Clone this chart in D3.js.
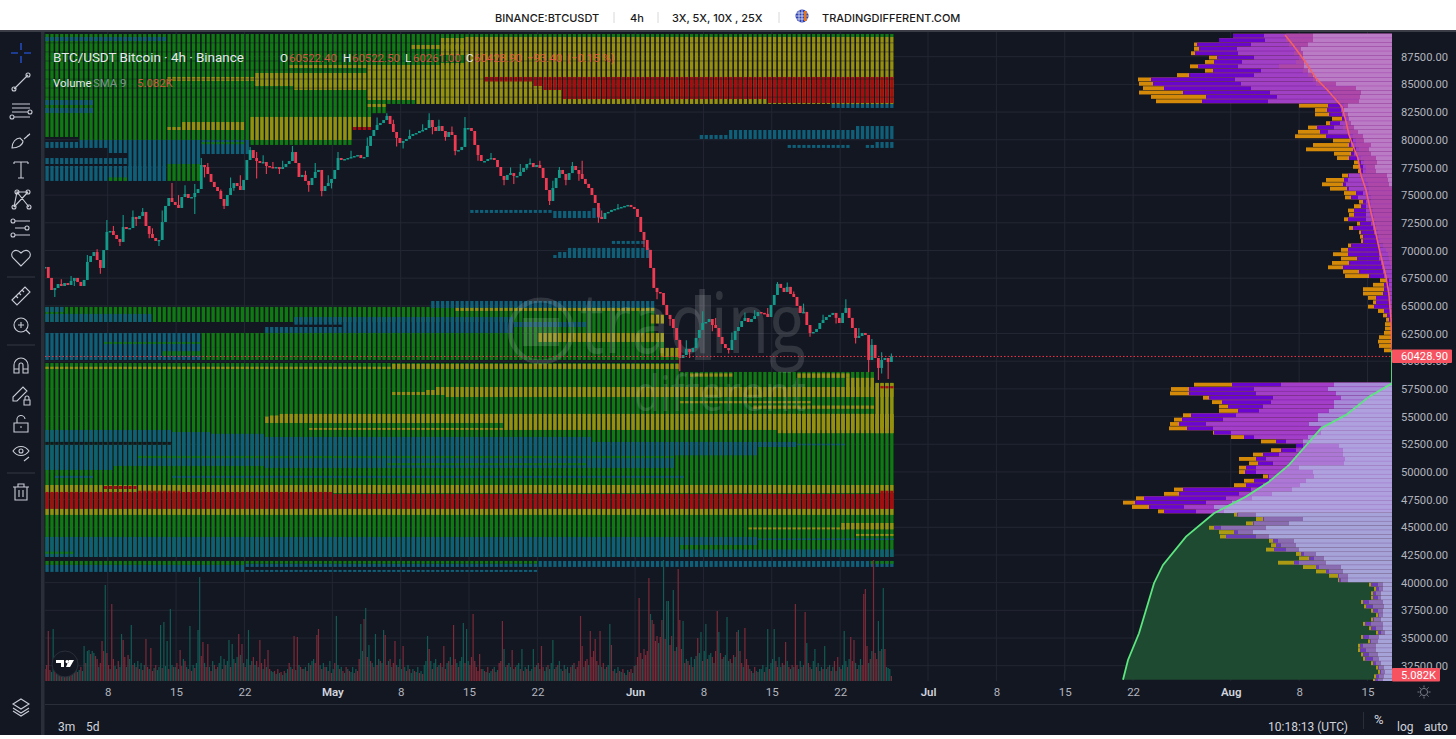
<!DOCTYPE html>
<html>
<head>
<meta charset="utf-8">
<script src="https://cdn.jsdelivr.net/npm/d3@7"></script>
<style>
html,body{margin:0;padding:0;background:#fff;overflow:hidden}
svg{display:block;font-family:Roboto,"Noto Sans",sans-serif}
</style>
</head>
<body>
<svg id="chart" width="1456" height="739"></svg>
<script>
// --- chart values (prices in thousands of USDT) ---
const priceTicks = [87500,85000,82500,80000,77500,75000,72500,70000,67500,65000,62500,60000,57500,55000,52500,50000,47500,45000,42500,40000,37500,35000,32500];
const dateTicks = ['2024-04-08','2024-04-15','2024-04-22','2024-05-01','2024-05-08','2024-05-15','2024-05-22','2024-06-01','2024-06-08','2024-06-15','2024-06-22','2024-07-01','2024-07-08','2024-07-15','2024-07-22','2024-08-01','2024-08-08','2024-08-15'];
const dateLabels = ['8','15','22','May','8','15','22','Jun','8','15','22','Jul','8','15','22','Aug','8','15'];
const lastPrice = 60428.9;
const lastVolume = 5.082;

// 8h closes
const closes = [68.51,67.52,66.43,66.61,66.97,66.79,67.06,66.88,67.25,67.52,67.16,66.79,67.34,68.96,69.5,69.86,69.14,68.42,70.04,71.67,
71.76,71.4,71.04,70.77,72.12,71.94,72.03,73.03,72.84,73.12,73.48,72.21,71.49,71.13,70.86,70.95,72.57,74.02,74.74,74.38,
74.11,73.84,74.83,75.1,74.74,74.83,75.19,75.55,77.72,77.54,76.91,76.19,75.73,75.37,74.65,74.02,75.01,75.64,76.09,75.82,
75.46,76.37,78.17,79.07,78.35,78.08,77.9,77.99,77.63,77.54,77.45,77.54,77.36,77.54,77.81,78.08,78.89,77.9,76.64,76.82,
76.28,75.91,76.55,77.09,77.27,75.37,75.82,76.09,76.46,77.27,78.35,78.17,78.26,78.35,78.44,78.53,78.62,78.35,78.44,79.44,
80.34,80.88,81.33,81.51,81.78,82.15,81.42,80.7,80.16,79.71,79.89,80.07,80.34,80.52,80.61,80.79,80.88,81.06,81.78,81.15,
80.79,81.24,80.79,80.25,80.7,80.43,78.98,79.07,79.35,81.06,81.06,80.79,79.53,78.62,78.08,78.08,78.26,78.35,78.17,77.54,
76.73,76.37,76.82,76.99,76.73,76.73,77.09,77.45,77.81,77.9,77.54,77.72,77.45,76.55,75.46,74.47,75.64,76.55,77.27,76.91,
76.37,76.99,77.63,77.27,76.91,76.46,76.01,75.64,75.01,74.29,73.03,72.84,73.39,73.48,73.66,73.75,73.84,73.93,74.02,74.11,
73.93,73.75,73.03,71.67,70.95,70.05,68.42,66.62,66.25,66.16,65.08,64.18,63.81,63.0,61.92,60.29,60.56,61.1,60.83,61.19,
62.1,62.82,63.45,63.54,63.81,63.27,63.0,62.19,61.55,61.19,61.01,61.92,62.73,63.09,63.63,63.9,63.54,63.81,64.08,64.44,
64.36,64.27,63.99,65.08,65.98,66.98,66.62,66.25,66.71,66.07,65.8,64.99,64.36,64.45,63.27,62.55,62.64,62.91,63.45,63.72,
63.99,64.18,64.36,63.91,63.45,64.36,64.81,63.91,63.0,62.1,62.28,62.55,62.37,60.11,61.47,60.29,59.39,60.11,60.29,59.93,60.43];
// [candle number, price] of the wicks that stick out
const wickHighs = [[5,67.4],[8,67.7],[13,69.6],[16,70.1],[19,72.75],[21,72.2],[24,73.2],[27,73.6],[30,73.84],[33,72.0],[36,73.6],[39,76.1],[41,75.0],[43,75.9],[46,76.0],[48,78.35],[50,77.9],[54,75.5],[57,76.6],[60,76.8],[63,79.35],[65,78.9],[67,78.6],[70,78.0],[73,78.1],[76,79.44],[80,77.2],[83,77.9],[87,76.8],[90,78.9],[94,79.0],[99,80.2],[102,82.0],[105,82.4],[107,81.8],[112,80.9],[116,81.4],[118,82.4],[121,81.8],[125,81.2],[129,82.05],[133,79.3],[137,78.8],[143,77.5],[146,77.8],[149,78.3],[152,78.1],[156,76.3],[158,77.54],[162,78.0],[165,78.1],[171,73.6],[176,74.2],[185,70.8],[190,66.0],[193,63.8],[197,61.9],[202,64.5],[206,63.9],[211,62.6],[215,64.4],[218,64.6],[222,64.8],[225,67.15],[228,67.1],[230,66.3],[233,65.2],[239,64.2],[246,65.6],[250,63.0],[254,62.0],[257,60.8],[260,60.7]];
const wickLows = [[3,65.8],[9,66.8],[17,67.9],[23,70.4],[28,72.2],[32,71.1],[35,70.4],[42,74.1],[46,73.3],[49,76.6],[55,73.75],[58,75.4],[65,76.5],[68,76.9],[72,76.9],[81,75.3],[85,74.9],[88,75.6],[108,79.4],[110,79.2],[119,80.5],[123,79.9],[126,78.6],[133,78.1],[141,75.9],[144,76.0],[148,77.3],[155,74.1],[160,75.9],[164,76.3],[170,72.5],[184,70.3],[188,65.6],[192,63.2],[195,59.1],[198,60.3],[205,62.7],[210,60.7],[214,63.2],[235,62.2],[243,63.4],[249,61.6],[253,59.0],[256,58.3],[257,58.9],[259,58.4]];

// 4h volume in thousands; positive = up bar, negative = down bar
const volume = [-12,-16,-50,-11,9,52,-14,8,-9,13,-7,15,-11,9,-12,7,-10,14,-8,12,
-9,11,-14,10,35,-18,30,31,-27,30,28,-25,-22,14,-18,-40,-30,96,-28,-16,
12,-77,-22,15,-12,-20,14,47,-41,-24,14,-26,22,56,-16,18,-14,20,-12,18,
-11,16,-42,-14,12,-33,-10,13,-16,11,14,56,-13,59,15,40,-12,72,16,-14,
14,-18,12,-31,-15,22,-20,14,-12,55,-10,16,-13,18,51,104,-25,-39,18,-14,
-37,14,-10,20,-16,12,-14,18,25,-12,22,-16,20,41,-14,37,22,-18,24,-47,
26,-37,18,-14,22,51,-16,20,-24,16,-20,14,-41,-18,12,-22,14,-31,-12,10,
9,-10,7,-12,8,-9,6,-10,8,12,-18,14,-12,-45,11,-44,16,-14,12,-12,
14,-10,18,-16,20,22,-18,-46,-52,16,-12,18,-14,14,-10,20,-8,12,-18,65,
16,-12,14,-10,8,-14,12,-10,9,14,-8,12,-10,-22,57,30,-62,73,-24,36,
-20,18,-14,47,-16,22,-20,18,51,-46,-16,20,-22,14,-18,-40,16,-14,22,12,
-35,14,-10,16,-12,8,12,-10,9,14,-8,10,-7,16,20,45,-32,20,-12,18,
22,-14,16,-18,14,-35,-12,18,-20,24,-16,-56,-22,18,-14,20,24,58,-18,52,
20,-16,-24,-67,-20,-14,-10,-27,-12,12,-10,9,-14,8,10,-12,14,-9,11,-18,
-20,-60,32,14,-16,18,14,-31,12,-14,16,18,-12,32,-10,14,-12,16,-10,12,
32,-14,16,-18,12,-35,-14,10,14,-16,12,18,41,-12,14,-16,20,12,-10,16,
-12,14,8,-14,16,-18,12,-14,-20,-65,-35,14,-20,-22,16,-50,-24,-30,-42,-20,
16,-50,14,-18,12,-14,16,57,-36,-10,12,-8,14,-10,9,-12,8,-6,11,-9,
-12,8,-15,16,-24,-83,-28,22,-32,-26,-30,-103,67,-61,-57,-40,-45,38,-44,-61,
121,-42,80,80,-36,-45,91,-30,34,-112,-61,-32,60,-18,22,-20,-16,24,-14,22,
25,-43,28,49,-20,30,57,-22,26,28,-24,18,-30,-70,49,-28,22,-24,26,64,
20,-22,18,-26,24,-49,51,-30,-18,14,-53,-22,-16,12,-10,8,-14,10,-9,12,
12,16,-9,14,52,-12,18,22,52,-20,-14,24,14,-18,16,-39,20,-14,12,-16,
14,-77,-16,12,20,-14,16,-69,38,-18,14,-12,20,32,-14,18,-10,14,-12,35,
12,-14,16,-10,14,-20,10,-24,14,-12,16,50,20,-14,22,-44,-20,-41,18,-12,
16,22,-16,-87,-92,-35,18,-22,30,-121,-28,-22,60,-30,32,93,-32,14,13,12,-5];

// liquidation heatmap blocks: [first column, last column, top price, bottom price, level]
// level: g low, b lower, y high, r highest, x empty
const heatBands = [
[0,69,89.55,82.96,'g'],[70,85,89.55,83.23,'g'],[86,173,89.55,89.28,'g'],[86,173,89.28,83.23,'y'],
[0,6,82.96,80.25,'g'],[7,41,82.96,79.98,'g'],[42,62,82.96,79.53,'g'],[63,66,82.96,81.15,'g'],[67,69,82.96,82.4,'g'],
[0,24,89.28,88.92,'b'],[0,9,83.59,83.14,'b'],[0,9,82.87,82.42,'b'],
[0,6,79.8,79.26,'b'],[7,12,79.98,79.26,'b'],[13,16,79.98,78.8,'b'],[17,31,79.98,77.81,'b'],[32,41,79.98,78.71,'b'],[32,40,79.8,79.6,'g'],
[0,16,78.35,77.81,'b'],[0,24,77.63,76.28,'b'],[17,24,77.81,76.28,'b'],[25,31,77.81,76.28,'g'],[13,16,76.6,76.28,'g'],
[25,27,81.15,80.88,'y'],[28,40,81.6,80.88,'y'],[42,62,82.06,79.98,'y'],[63,66,82.06,81.15,'y'],[63,66,81.15,80.88,'r'],[66,69,83.23,82.96,'y'],
[25,43,85.67,85.31,'y'],[43,50,86.03,84.85,'y'],[51,65,86.03,84.49,'y'],[50,65,86.75,86.48,'y'],
[66,75,86.75,83.59,'y'],[76,85,86.75,83.23,'y'],[75,85,88.56,88.2,'y'],[81,85,89.19,87.65,'y'],[81,85,86.93,83.23,'y'],
[90,99,85.67,85.26,'r'],[100,105,85.67,84.49,'r'],[100,101,84.85,84.49,'y'],[106,147,85.67,83.68,'r'],[148,173,85.67,83.32,'r'],[161,173,83.23,82.87,'b'],
[134,139,80.43,80.07,'b'],[140,165,80.88,80.07,'b'],[166,173,81.24,80.07,'b'],[152,164,79.53,79.26,'b'],[168,169,79.53,79.26,'b'],[170,173,79.8,79.26,'b'],
[87,103,73.66,73.39,'b'],[104,111,73.57,72.93,'b'],[112,113,73.84,72.93,'b'],
[116,122,70.86,70.59,'b'],[107,123,70.23,69.32,'b'],[105,106,69.86,69.32,'b'],[104,104,69.59,69.32,'b'],
[0,124,64.9,63.54,'g'],[0,21,64.27,63.54,'b'],[0,3,64.9,64.45,'b'],[51,60,63.99,63.3,'b'],[45,60,63.09,62.55,'b'],[61,95,63.99,62.55,'b'],
[96,124,63.54,62.55,'g'],[96,110,63.54,63.09,'b'],[79,124,65.44,64.81,'b'],[84,124,64.81,64.54,'y'],[124,126,64.2,63.4,'y'],
[0,31,62.55,60.11,'b'],[12,31,61.74,61.56,'g'],[24,31,60.9,60.5,'g'],[32,126,62.55,61.2,'g'],[32,129,61.2,60.11,'g'],[101,126,62.55,61.74,'y'],[126,129,61.2,60.38,'y'],
[0,129,59.84,42.32,'g'],[130,169,59.03,42.32,'g'],[170,173,58.04,42.32,'g'],
[0,70,59.5,59.3,'y'],[71,129,59.75,59.3,'y'],[170,173,58.04,53.5,'y'],
[71,77,57.22,56.95,'y'],[78,79,57.4,56.95,'y'],[80,81,57.67,56.95,'y'],[82,173,57.67,56.77,'y'],
[132,140,58.9,58.6,'y'],[154,164,58.9,58.5,'y'],[164,169,58.5,56.77,'y'],[130,156,56.4,56.2,'y'],[145,169,56.0,55.7,'y'],
[170,173,58.0,57.7,'y'],[171,173,57.75,57.55,'r'],[171,173,54.0,53.75,'r'],
[45,45,55.0,54.42,'y'],[46,47,55.1,54.42,'y'],[48,93,55.24,54.42,'y'],[94,173,55.24,53.79,'y'],[150,173,55.24,53.5,'y'],[54,93,53.97,53.8,'y'],
[0,25,53.79,52.71,'b'],[0,25,52.71,52.44,'x'],[0,13,52.44,50.18,'b'],[14,25,52.44,50.54,'b'],
[26,33,53.6,50.54,'b'],[34,44,53.44,50.54,'b'],[45,111,53.16,50.36,'b'],[112,128,52.71,50.36,'b'],[129,145,52.71,51.5,'b'],[146,153,52.71,52.25,'b'],[154,163,52.55,52.4,'b'],
[19,128,51.45,51.25,'g'],[70,110,50.8,50.6,'g'],[2,9,49.65,49.45,'b'],[26,130,49.65,49.45,'b'],
[0,173,48.82,48.1,'y'],[12,18,48.73,48.46,'r'],[19,27,48.3,48.2,'r'],[0,58,48.19,46.66,'r'],[59,173,48.01,46.66,'r'],[171,173,48.3,46.66,'r'],[0,173,46.66,46.12,'y'],
[0,129,44.13,42.32,'b'],[130,145,44.13,43.4,'b'],[130,173,43.0,42.32,'b'],[146,173,44.0,43.85,'b'],[0,5,42.8,42.6,'g'],
[144,163,44.99,44.81,'y'],[163,173,45.39,44.81,'y'],[166,173,44.4,44.22,'y'],
[0,40,41.96,41.6,'g'],[0,40,41.6,40.97,'b'],[41,100,41.96,41.7,'g'],[41,100,41.7,41.42,'b'],[41,100,41.15,40.97,'b'],[101,173,41.96,41.42,'b'],[169,173,41.96,41.7,'g']
];

// volume profile, top half: depth of each layer per price row
const upOrange = [159,173,198,198,201,183,187,202,187,215,254,253,249,253,241,236,93,77,77,60,66,84,94,97,59,79,86,58,55,38,39,34,50,66,70,62,48,47,33,38,44,43,48,35,43,33,32,31,44,51,59,51,60,64,49,47,12,19,29,29,24,19,24,14,9,6,7,7,8,13,14,13,8];
const upPurple = [159,173,195,193,197,175,178,194,179,203,241,239,228,209,186,190,64,65,63,50,62,75,72,66,42,43,39,41,43,33,32,31,44,48,49,45,36,41,29,31,38,38,44,32,39,31,29,29,41,44,44,35,43,49,33,23,5,8,8,9,16,16,18,8,5,3,1,1,1,1,1,1,1];
const upMauve = [128,127,141,155,154,138,150,154,131,138,157,151,141,122,115,124,52,51,50,47,52,58,64,43,39,41,36,38,35,31,29,29,43,44,46,43,29,34,26,26,26,26,26,21,19,18,16,14,14,13,13,13,11,10,9,8,3,3,4,4,3,3,3,2,1,1,0,0,0,0,0,0,0];
const upPink = [106,106,103,96,98,93,96,113,89,84,79,76,66,59,58,54,48,49,48,44,46,49,44,39,36,36,33,36,31,28,26,26,29,26,24,23,23,21,21,21,19,18,18,16,16,14,13,12,9,6,4,3,2,1,0,0,0,0,0,0,0,0,0,0,0,0,0,0,0,0,0,0,0];
const upPale = [79,79,84,91,89,89,88,88,84,79,76,56,36,31,32,33,44,48,44,43,41,38,34,29,28,21,23,21,16,15,17,16,5,4,3,0,0,0,0,0,0,0,0,0,0,0,0,0,0,0,0,0,0,0,0,0,0,0,0,0,0,0,0,0,0,0,0,0,0,0,0,0,0];
const upFirstPrice = 89.37;
// middle rows
const midOrange = [198,221,222,189,180,173,173,209,218,222,223,179,161,131,96,121,139,153,143,153,153,129,148,158,218,228,256,269,260,234];
const midPurple = [160,203,203,183,170,164,154,201,210,213,205,178,148,116,96,111,129,136,134,146,147,124,138,146,209,213,248,257,243,228];
const midMauve = [111,138,136,119,121,129,133,156,169,186,179,161,138,106,89,96,113,126,119,136,136,123,123,129,141,153,166,186,208,196];
const midLilac = [58,64,56,51,58,58,63,74,74,83,71,71,84,89,53,49,49,47,48,93,79,78,86,92,100,120,140,160,178,168];
const midFirstPrice = 57.86;
// bottom rows
const lowGold = [158,136,146,183,173,172,123,121,126,96,93,114,89,76,63,54,23,18,21,21,31,28,21,16,21,29,23,16,31,24,34,34,31,29,21,16,14,18,19];
const lowPurple = [155,129,139,178,158,166,119,116,118,91,83,98,76,66,54,53,21,16,19,19,29,26,19,14,19,27,21,14,29,22,32,32,29,27,19,14,12,16,17];
const lowDim = [154,128,138,171,154,136,114,111,106,88,78,93,73,63,53,51,14,13,16,14,23,19,14,13,18,21,16,11,23,21,29,26,23,19,16,13,11,13,14];
const lowPale = [136,89,103,126,139,123,98,96,93,76,68,66,51,49,44,44,9,9,11,11,9,8,9,9,11,9,9,7,13,14,16,16,14,13,11,8,7,8,9];
const lowFirstPrice = 46.12;
const profileBin = 0.3946;

// the two cumulative curves of the profile
const redCurvePrice = [89.46,88.56,87.2,85.55,84.34,82.98,81.63,80.43,79.23,78.32,76.82,75.46,73.81,72.3,70.2,67.63,65.98,63.72,61.0];
const redCurveDepth = [107,99,88,76,63,50,46,43,38,34,31,26,22,18,13,6,3,1,0];
const greenCurvePrice = [61.0,58.0,56.8,55.15,53.94,52.59,50.63,49.12,47.77,46.27,44.16,41.6,39.95,37.53,35.43,33.02,31.23];
const greenCurveDepth = [0,0,23,46,71,84,103,123,146,178,206,229,238,246,253,264,269];

// --- layout ---
const pane = {left:45,right:1392,top:32,bottom:681};
const colors = {bg:'#131722',grid:'#232733',text:'#b2b5be',g:'#0f7a12',b:'#0f5f78',y:'#97900f',r:'#a80c10',x:'#131722',
  up:'#129a8b',down:'#f03a52',volUp:'#125a53',volDown:'#7c2a38'};
const H = 3600e3;
const candleStart = Date.UTC(2024,3,1,14);

const svg = d3.select('#chart');
const x = d3.scaleUtc().domain([Date.UTC(2024,3,8),Date.UTC(2024,7,15)]).range([107.7,1367.5]);
const y = d3.scaleLinear().domain([87500,32500]).range([56.7,665.7]);
const py = k => y(k*1000);
const vol = d3.scaleLinear().domain([0,121]).range([pane.bottom,560]);
const depth = d3.scaleLinear().domain([0,300]).range([pane.right,pane.right-300]);

svg.append('rect').attr('width',1456).attr('height',739).attr('fill','#fff');
svg.append('rect').attr('y',31).attr('width',1456).attr('height',704).attr('fill',colors.bg);
svg.append('rect').attr('y',30).attr('width',1456).attr('height',2).attr('fill','#3a3d46');

svg.append('defs').append('clipPath').attr('id','paneClip').append('rect')
  .attr('x',pane.left).attr('y',pane.top+1).attr('width',pane.right-pane.left).attr('height',pane.bottom-pane.top-1);

// --- grid ---
const parsedTicks = dateTicks.map(d=>new Date(d+'T00:00:00Z'));
const grid = svg.append('g');
grid.selectAll('line.v').data(parsedTicks).join('line').attr('class','v')
  .attr('x1',d=>x(d)).attr('x2',d=>x(d)).attr('y1',pane.top).attr('y2',pane.bottom).attr('stroke',colors.grid);
grid.selectAll('line.h').data(priceTicks).join('line').attr('class','h')
  .attr('x1',pane.left).attr('x2',pane.right).attr('y1',d=>y(d)).attr('y2',d=>y(d)).attr('stroke',colors.grid);

const plot = svg.append('g').attr('clip-path','url(#paneClip)');

// --- heatmap ---
const cells = [];
heatBands.forEach(b=>{
  d3.range(b[0],b[1]+1).forEach(c=>cells.push({c:c,top:b[2],bottom:b[3],level:b[4]}));
});
const colX = c => x(new Date(candleStart+c*12*H));
plot.append('g').selectAll('rect').data(cells).join('rect')
  .attr('x',d=>colX(d.c)+0.4).attr('width',3.3)
  .attr('y',d=>py(d.top)).attr('height',d=>py(d.bottom)-py(d.top))
  .attr('fill',d=>colors[d.level]);
// faint row lines in the top block
plot.append('g').selectAll('line').data(d3.range(88.75,83.2,-0.817)).join('line')
  .attr('x1',pane.left).attr('x2',x(new Date(candleStart+174*12*H)))
  .attr('y1',d=>py(d)).attr('y2',d=>py(d)).attr('stroke',colors.bg).attr('stroke-opacity',0.4);

// --- watermark ---
const mark = plot.append('g').attr('fill','#fff').attr('fill-opacity',0.13);
mark.append('circle').attr('cx',541).attr('cy',331).attr('r',31).attr('fill','none').attr('stroke','#fff').attr('stroke-opacity',0.13).attr('stroke-width',5);
mark.append('rect').attr('x',523).attr('y',318).attr('width',36).attr('height',28);
mark.append('rect').attr('x',695).attr('y',295).attr('width',16).attr('height',65);
mark.append('text').attr('x',580).attr('y',353).attr('font-size',84).attr('font-weight',500).attr('font-family','Open Sans')
  .attr('textLength',226).attr('lengthAdjust','spacingAndGlyphs').text('trading');
mark.append('text').attr('x',634).attr('y',411).attr('font-size',50).attr('font-weight',500).attr('font-family','Open Sans')
  .attr('textLength',172).attr('lengthAdjust','spacingAndGlyphs').text('different');

// --- volume pane ---
plot.append('g').selectAll('rect').data(volume).join('rect')
  .attr('x',(d,i)=>x(new Date(candleStart+i*4*H))-0.6).attr('width',1.2)
  .attr('y',d=>vol(Math.abs(d))).attr('height',d=>pane.bottom-vol(Math.abs(d)))
  .attr('fill',d=>d>0?colors.volUp:colors.volDown);

// --- candles ---
const highOf = new Map(wickHighs), lowOf = new Map(wickLows);
const candles = closes.map((c,i)=>{
  const open = i?closes[i-1]:c;
  return {date:new Date(candleStart+i*8*H),open:open,close:c,
    high:Math.max(highOf.get(i)||0,open,c),low:Math.min(lowOf.get(i)||999,open,c)};
});
const candle = plot.append('g').selectAll('g').data(candles).join('g');
candle.append('line').attr('x1',d=>x(d.date)).attr('x2',d=>x(d.date))
  .attr('y1',d=>py(d.high)).attr('y2',d=>py(d.low)).attr('stroke',d=>d.close>=d.open?colors.up:colors.down).attr('stroke-width',1.1);
candle.append('rect').attr('x',d=>x(d.date)-1.4).attr('width',2.8)
  .attr('y',d=>py(Math.max(d.open,d.close))).attr('height',d=>Math.max(1.5,Math.abs(py(d.open)-py(d.close))))
  .attr('fill',d=>d.close>=d.open?colors.up:colors.down);

// --- volume profile ---
function profileRows(first,layers,fills){
  const rowGroup = plot.append('g');
  layers.forEach((values,k)=>{
    rowGroup.append('g').attr('fill',fills[k]).selectAll('rect').data(values).join('rect')
      .attr('x',d=>depth(d)).attr('width',d=>depth(0)-depth(d))
      .attr('y',(d,i)=>py(first-i*profileBin+profileBin/2))
      .attr('height',py(0)-py(profileBin)-0.5);
  });
}
profileRows(upFirstPrice,[upOrange,upPurple,upMauve,upPink,upPale],['#d48a08','#6a06cc','#a040c4','#ad48a8','#bb7cc6']);
profileRows(midFirstPrice,[midOrange,midPurple,midMauve,midLilac],['#d48a08','#6a06d0','#a23ec8','#a68ad8']);

// translucent side of the lower curve, above the green fill
const curveRows = greenCurvePrice.map((p,i)=>({p:p,d:greenCurveDepth[i]}));
plot.append('path').datum(curveRows.filter(d=>d.p>46))
  .attr('fill','#b8bce4').attr('fill-opacity',0.45)
  .attr('d',d3.area().y(d=>py(d.p)).x0(d=>depth(d.d)).x1(depth(0)));
plot.append('path').datum(curveRows.filter(d=>d.p<47))
  .attr('fill','#1f4a32')
  .attr('d',d3.area().y(d=>py(d.p)).x0(d=>depth(d.d)).x1(depth(0)));
profileRows(lowFirstPrice,[lowGold,lowPurple,lowDim,lowPale],['#ad9a14','#6a3cb8','#8a6cb0','#a6a3d8']);

const curve = d3.line().x(d=>depth(d.d)).y(d=>py(d.p));
plot.append('path').datum(redCurvePrice.map((p,i)=>({p:p,d:redCurveDepth[i]})))
  .attr('fill','none').attr('stroke','#f4605f').attr('stroke-width',1.5).attr('d',curve);
plot.append('path').datum(curveRows)
  .attr('fill','none').attr('stroke','#5ce67f').attr('stroke-width',1.8).attr('d',curve);

// --- last price line ---
svg.append('line').attr('x1',pane.left).attr('x2',pane.right).attr('y1',y(lastPrice)).attr('y2',y(lastPrice))
  .attr('stroke','#f23645').attr('stroke-dasharray','1.5 2');

// --- axes ---
const yAxis = svg.append('g').attr('transform',`translate(${pane.right},0)`)
  .call(d3.axisRight(y).tickValues(priceTicks).tickFormat(d3.format('.2f')).tickSize(0).tickPadding(9));
yAxis.select('.domain').remove();
yAxis.selectAll('text').attr('font-family','Roboto').attr('font-size',11.2).attr('fill',colors.text);

const xAxis = svg.append('g').attr('transform',`translate(0,${pane.bottom})`)
  .call(d3.axisBottom(x).tickValues(parsedTicks).tickFormat((d,i)=>dateLabels[i]).tickSize(0).tickPadding(7));
xAxis.select('.domain').remove();
xAxis.selectAll('text').attr('font-family','Roboto').attr('font-size',11.5)
  .attr('fill',(d,i)=>isNaN(dateLabels[i])?'#d1d4dc':colors.text)
  .attr('font-weight',(d,i)=>isNaN(dateLabels[i])?600:400);

function tag(top,w,label){
  svg.append('rect').attr('x',pane.right).attr('y',top).attr('width',w).attr('height',13.5).attr('fill','#f7525f').attr('rx',1);
  svg.append('text').attr('x',pane.right+9).attr('y',top+10.8).attr('font-size',11.2).attr('fill','#fff').text(label);
}
tag(y(lastPrice)-7,60,d3.format('.2f')(lastPrice));
tag(668,48,lastVolume+'K');

svg.append('line').attr('x1',45).attr('x2',1456).attr('y1',704.5).attr('y2',704.5).attr('stroke','#2a2e39');
svg.append('line').attr('x1',1363.5).attr('x2',1363.5).attr('y1',712).attr('y2',729).attr('stroke','#2a2e39');

// --- texts ---
function label(t,px,py_,opt){
  opt=opt||{};
  return svg.append('text').attr('x',px).attr('y',py_).attr('font-size',opt.size||11.6)
    .attr('font-family',opt.family||null)
    .attr('fill',opt.fill||'#d1d4dc').attr('fill-opacity',opt.op||1).attr('font-weight',opt.weight||400).text(t);
}
const head = {size:11,fill:'#1a1a1a',weight:500,family:'Inter'};
label('BINANCE:BTCUSDT',495,22,head);
label('4h',630,22,head);
label('3X, 5X, 10X , 25X',672,22,head);
label('TRADINGDIFFERENT.COM',822,22,head);
[614,658,779].forEach(v=>svg.append('line').attr('x1',v).attr('x2',v).attr('y1',12).attr('y2',23).attr('stroke','#d8d8d8'));
const globe = svg.append('g').attr('transform','translate(802,16)');
globe.append('circle').attr('r',6.5).attr('fill','#2b3fb0');
[-3,0,3].forEach(v=>globe.append('line').attr('x1',-6).attr('x2',6).attr('y1',v).attr('y2',v).attr('stroke','#e6e8f5').attr('stroke-width',0.8));
[-3,0].forEach(v=>globe.append('line').attr('x1',v).attr('x2',v).attr('y1',-6).attr('y2',6).attr('stroke','#e6e8f5').attr('stroke-width',0.8));
globe.append('rect').attr('x',2).attr('y',-5).attr('width',2.5).attr('height',10).attr('fill','#e8751a');

label('BTC/USDT Bitcoin · 4h · Binance',53,62,{size:13.4,fill:'#e6e8ee'});
[['O',280],['H',343],['L',405],['C',466]].forEach(d=>label(d[0],d[1],62,{size:11.6,fill:'#e6e8ee'}));
[['60522.40',289],['60522.50',352],['60261.00',413],['60428.90',474],['\u221293.40',527],['(\u22120.15 %)',567]].forEach(d=>label(d[0],d[1],62,{size:11.4,fill:'#f2574a',op:0.85}));
label('Volume',53,87,{size:11.4,fill:'#e6e8ee'});
label('SMA 9',93,87,{size:11.4,fill:'#9aa0a8',op:0.8});
label('5.082K',137,87,{size:11.4,fill:'#f2574a',op:0.85});

label('3m',58,731,{size:12});
label('5d',86,731,{size:12});
label('10:18:13 (UTC)',1268,731,{size:12});
label('%',1374,724,{size:13});
label('log',1397,731,{size:12});
label('auto',1424,731,{size:12});

// --- left toolbar ---
svg.append('rect').attr('x',0).attr('y',32).attr('width',41).attr('height',703).attr('fill','#131722');
svg.append('rect').attr('x',41).attr('y',32).attr('width',3.5).attr('height',703).attr('fill','#2a2e39');
const tools = [
 {y:53,d:'M-10 0H-3M3 0H10M0 -10V-3M0 3V10',s:'#2962ff'},
 {y:82,d:'M-7 7L7 -7M-9 7a2 2 0 1 0 4 0a2 2 0 1 0 -4 0M5 -7a2 2 0 1 0 4 0a2 2 0 1 0 -4 0'},
 {y:111,d:'M-9 -7H9M-9 -3H9M-9 1H7M-7 6H9M7 1a2 2 0 1 0 4 0a2 2 0 1 0 -4 0M-11 6a2 2 0 1 0 4 0a2 2 0 1 0 -4 0'},
 {y:142,d:'M-9 6C-9 0 -5 -4 -1 -4L2 -1C2 3 -3 6 -9 6ZM3 -3L9 -8M6 -6L9 -8'},
 {y:170,d:'M-7 -8H7M0 -8V8M-3 8H3M-7 -8V-6M7 -8V-6'},
 {y:199,d:'M-7 8L-4 -7L8 8M-4 -7L7 -7M-7 8L7 -7M-9 8a2 2 0 1 0 4 0a2 2 0 1 0 -4 0M6 8a2 2 0 1 0 4 0a2 2 0 1 0 -4 0M-6 -7a2 2 0 1 0 4 0a2 2 0 1 0 -4 0M5 -7a2 2 0 1 0 4 0a2 2 0 1 0 -4 0'},
 {y:228,d:'M-6 -7H9M-6 7H9M-6 0H4M-10 -7a2 2 0 1 0 4 0a2 2 0 1 0 -4 0M-10 7a2 2 0 1 0 4 0a2 2 0 1 0 -4 0M4 0a2 2 0 1 0 4 0a2 2 0 1 0 -4 0'},
 {y:257,d:'M0 9L-8 1C-12 -4 -6 -10 0 -4C6 -10 12 -4 8 1Z'},
 {y:296,d:'M-9 4L4 -9L9 -4L-4 9ZM-5 0L-3 2M-2 -3L0 -1M1 -6L3 -4'},
 {y:325,d:'M-7 0a7 7 0 1 0 14 0a7 7 0 1 0 -14 0M-3 0H3M0 -3V3M5 5L9 9'},
 {y:366,d:'M-7 7V-1A7 7 0 0 1 7 -1V7H2V-1A2 2 0 0 0 -2 -1V7ZM-7 3H-2M2 3H7'},
 {y:395,d:'M-8 6L-8 2L2 -8L6 -4L-4 6ZM3 5H9V10H3ZM4 5V3a2 2 0 0 1 4 0V5'},
 {y:424,d:'M-7 -1H7V8H-7ZM-4 -1V-4A4 4 0 0 1 4 -5M-1 3H1'},
 {y:453,d:'M-8 -2C-4 -8 4 -8 8 -2C4 4 -4 4 -8 -2ZM-2 -2a2 2 0 1 0 4 0a2 2 0 1 0 -4 0M3 8L8 4'},
 {y:492,d:'M-6 -5H6V8H-6ZM-8 -5H8M-3 -5V-8H3V-5M-2 -2V5M2 -2V5'},
 {y:707,d:'M0 -8L8 -3L0 2L-8 -3ZM-8 1L0 6L8 1M-8 4L0 9L8 4'}
];
svg.append('g').selectAll('path').data(tools).join('path')
  .attr('transform',d=>`translate(21,${d.y})`).attr('d',d=>d.d)
  .attr('fill','none').attr('stroke',d=>d.s||'#c9ccd4').attr('stroke-width',1.1);
svg.append('g').selectAll('line').data([277,345,473]).join('line')
  .attr('x1',7).attr('x2',35).attr('y1',d=>d).attr('y2',d=>d).attr('stroke','#2a2e39').attr('stroke-width',1.5);

// logo badge and settings sun
const badge = svg.append('g').attr('transform','translate(65,664)');
badge.append('circle').attr('r',13).attr('fill','#131722').attr('stroke','#2a2e39');
badge.append('path').attr('fill','#fff').attr('d','M-9 -4H-1V3H-4V-1H-9ZM2 -4a1.6 1.6 0 1 0 0.1 0ZM4 -4H9L5 3H1Z');
const sun = svg.append('g').attr('transform','translate(1424,692)').attr('stroke','#787b86').attr('fill','none');
sun.append('circle').attr('r',3.6);
sun.append('path').attr('d','M0 -6.5V-4.5M0 4.5V6.5M-6.5 0H-4.5M4.5 0H6.5M-4.6 -4.6L-3.2 -3.2M3.2 3.2L4.6 4.6M-4.6 4.6L-3.2 3.2M3.2 -3.2L4.6 -4.6');
</script>
</body>
</html>
